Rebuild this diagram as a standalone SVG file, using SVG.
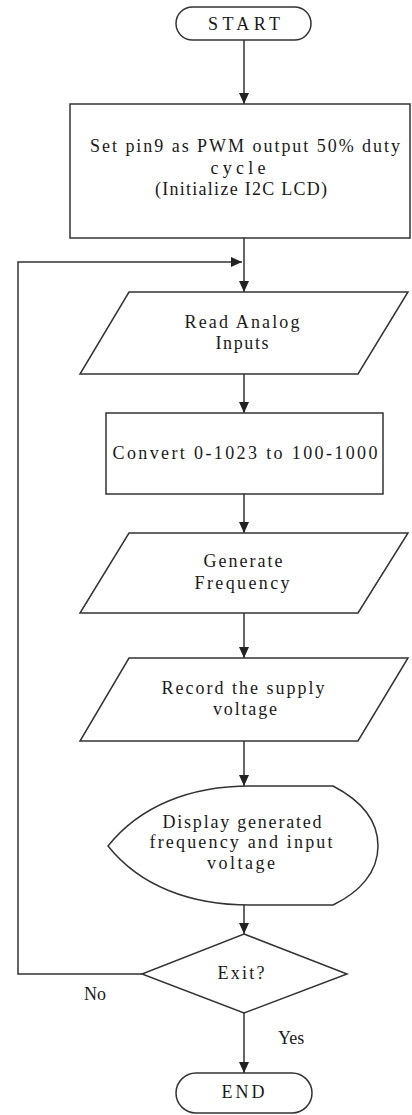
<svg xmlns="http://www.w3.org/2000/svg" width="412" height="1115" viewBox="0 0 412 1115">
<style>
.s{fill:#fff;stroke:#333;stroke-width:1.5}
.c{fill:none;stroke:#333;stroke-width:1.5}
.t{font-family:"Liberation Serif","Times New Roman",serif;font-size:18px;fill:#1a1a1a;text-anchor:middle}
.l{font-family:"Liberation Serif","Times New Roman",serif;font-size:18px;fill:#1a1a1a}
</style>
<defs>
<marker id="ah" markerUnits="userSpaceOnUse" markerWidth="11" markerHeight="10" refX="11" refY="5" orient="auto">
<path d="M0,0 L11,5 L0,10 Z" fill="#222"/>
</marker>
</defs>
<rect width="412" height="1115" fill="#fff"/>
<g id="connectors">
<line class="c" x1="244" y1="40" x2="244" y2="104" marker-end="url(#ah)"/>
<line class="c" x1="244" y1="238" x2="244" y2="292" marker-end="url(#ah)"/>
<line class="c" x1="244" y1="374" x2="244" y2="413" marker-end="url(#ah)"/>
<line class="c" x1="244" y1="494" x2="244" y2="533" marker-end="url(#ah)"/>
<line class="c" x1="244" y1="613" x2="244" y2="658" marker-end="url(#ah)"/>
<line class="c" x1="244" y1="741" x2="244" y2="786" marker-end="url(#ah)"/>
<line class="c" x1="244" y1="905" x2="244" y2="934" marker-end="url(#ah)"/>
<line class="c" x1="244" y1="1013" x2="244" y2="1073" marker-end="url(#ah)"/>
<polyline class="c" points="142,974 18,974 18,262 242,262" marker-end="url(#ah)"/>
<text class="l" x="84" y="1000">No</text>
<text class="l" x="278" y="1044">Yes</text>
</g>
<g id="start">
<rect class="s" x="176" y="7" width="135" height="33" rx="16.5"/>
<text class="t" x="244" y="30" textLength="72">START</text>
</g>
<g id="init">
<rect class="s" x="70" y="104" width="340" height="134"/>
<text class="t" x="245" y="152" textLength="310">Set pin9 as PWM output 50% duty</text>
<text class="t" x="238" y="174" textLength="55">cycle</text>
<text class="t" x="241" y="195" textLength="172">(Initialize I2C LCD)</text>
</g>
<g id="read">
<polygon class="s" points="129,292 408,292 358,374 80,374"/>
<text class="t" x="242" y="328" textLength="115">Read Analog</text>
<text class="t" x="242" y="349" textLength="53">Inputs</text>
</g>
<g id="convert">
<rect class="s" x="106" y="413" width="277" height="81"/>
<text class="t" x="245" y="459" textLength="265">Convert 0-1023 to 100-1000</text>
</g>
<g id="generate">
<polygon class="s" points="129,533 408,533 358,613 80,613"/>
<text class="t" x="243" y="567" textLength="79">Generate</text>
<text class="t" x="242" y="589" textLength="95">Frequency</text>
</g>
<g id="record">
<polygon class="s" points="129,658 408,658 358,741 80,741"/>
<text class="t" x="243" y="694" textLength="163">Record the supply</text>
<text class="t" x="245" y="715" textLength="64">voltage</text>
</g>
<g id="display">
<path class="s" d="M108,846 C140,806 190,786 250,786 L333,786 C360,800 378,820 378,846 C378,872 360,892 333,905 L250,905 C190,905 140,886 108,846 Z"/>
<text class="t" x="242" y="828" textLength="159">Display generated</text>
<text class="t" x="241" y="848" textLength="183">frequency and input</text>
<text class="t" x="241" y="869" textLength="68">voltage</text>
</g>
<g id="exit">
<polygon class="s" points="244,934 347,974 244,1013 142,974"/>
<text class="t" x="241" y="979" textLength="47">Exit?</text>
</g>
<g id="end">
<rect class="s" x="176" y="1073" width="136" height="40" rx="20"/>
<text class="t" x="243" y="1098" textLength="43">END</text>
</g>
</svg>
